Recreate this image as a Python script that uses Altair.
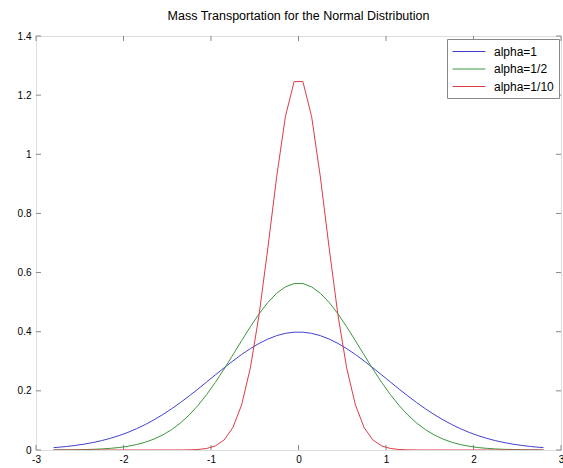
import altair as alt
import pandas as pd

# ---- data ----
x_vals = [-2.8, -2.75, -2.65, -2.55, -2.45, -2.35, -2.25, -2.15, -2.05, -1.95,
          -1.85, -1.75, -1.65, -1.55, -1.45, -1.35, -1.25, -1.15, -1.05, -0.95,
          -0.85, -0.75, -0.65, -0.55, -0.45, -0.35, -0.25, -0.15, -0.05,
          0.05, 0.15, 0.25, 0.35, 0.45, 0.55, 0.65, 0.75, 0.85, 0.95,
          1.05, 1.15, 1.25, 1.35, 1.45, 1.55, 1.65, 1.75, 1.85, 1.95,
          2.05, 2.15, 2.25, 2.35, 2.45, 2.55, 2.65, 2.75, 2.8]

alpha_1 = [0.0079, 0.0091, 0.0119, 0.0155, 0.0198, 0.0252, 0.0317, 0.0396, 0.0488, 0.0596,
           0.0721, 0.0863, 0.1023, 0.1200, 0.1394, 0.1604, 0.1827, 0.2059, 0.2299, 0.2541,
           0.2780, 0.3011, 0.3230, 0.3429, 0.3605, 0.3752, 0.3867, 0.3945, 0.3984,
           0.3984, 0.3945, 0.3867, 0.3752, 0.3605, 0.3429, 0.3230, 0.3011, 0.2780, 0.2541,
           0.2299, 0.2059, 0.1827, 0.1604, 0.1394, 0.1200, 0.1023, 0.0863, 0.0721, 0.0596,
           0.0488, 0.0396, 0.0317, 0.0252, 0.0198, 0.0155, 0.0119, 0.0091, 0.0079]

alpha_half = [0.0002, 0.0003, 0.0005, 0.0008, 0.0014, 0.0023, 0.0036, 0.0056, 0.0084, 0.0126,
              0.0184, 0.0264, 0.0371, 0.0511, 0.0689, 0.0912, 0.1183, 0.1503, 0.1874, 0.2288,
              0.2739, 0.3215, 0.3698, 0.4169, 0.4608, 0.4991, 0.5300, 0.5516, 0.5628,
              0.5628, 0.5516, 0.5300, 0.4991, 0.4608, 0.4169, 0.3698, 0.3215, 0.2739, 0.2288,
              0.1874, 0.1503, 0.1183, 0.0912, 0.0689, 0.0511, 0.0371, 0.0264, 0.0184, 0.0126,
              0.0084, 0.0056, 0.0036, 0.0023, 0.0014, 0.0008, 0.0005, 0.0003, 0.0002]

alpha_tenth = [0.0, 0.0, 0.0, 0.0, 0.0, 0.0, 0.0, 0.0, 0.0, 0.0,
               0.0, 0.0, 0.0, 0.0, 0.0, 0.0001, 0.0005, 0.0017, 0.0051, 0.0138,
               0.0340, 0.0758, 0.1526, 0.2780, 0.4583, 0.6838, 0.9230, 1.1273, 1.2459,
               1.2459, 1.1273, 0.9230, 0.6838, 0.4583, 0.2780, 0.1526, 0.0758, 0.0340, 0.0138,
               0.0051, 0.0017, 0.0005, 0.0001, 0.0, 0.0, 0.0, 0.0, 0.0, 0.0,
               0.0, 0.0, 0.0, 0.0, 0.0, 0.0, 0.0, 0.0, 0.0]

series_names = ["alpha=1", "alpha=1/2", "alpha=1/10"]
series_colors = ["#4040d0", "#3c963c", "#dc3c46"]

x_ticks = [-3, -2, -1, 0, 1, 2, 3]
y_ticks = [0, 0.2, 0.4, 0.6, 0.8, 1, 1.2, 1.4]

title_text = "Mass Transportation for the Normal Distribution"

# ---- build table ----
rows = []
for name, ys in zip(series_names, [alpha_1, alpha_half, alpha_tenth]):
    for i, (xv, yv) in enumerate(zip(x_vals, ys)):
        rows.append({"x": xv, "y": yv, "series": name, "i": i})
df = pd.DataFrame(rows)

W, H = 525, 414
FONT = "Liberation Sans"
AX = "#888888"
FS = 12

xscale = alt.Scale(domain=[-3, 3], nice=False, zero=False)
yscale = alt.Scale(domain=[0, 1.4], nice=False)

lines = alt.Chart(df).mark_line(strokeWidth=1, clip=True).encode(
    x=alt.X("x:Q", scale=xscale,
            axis=alt.Axis(values=x_ticks, title=None, ticks=False, domain=False, grid=False,
                          labelExpr="'' + datum.value", labelPadding=4,
                          labelFlush=False, labelBound=False, labelOverlap=False)),
    y=alt.Y("y:Q", scale=yscale,
            axis=alt.Axis(values=y_ticks, title=None, ticks=False, domain=False, grid=False,
                          labelExpr="'' + datum.value", labelPadding=5,
                          labelFlush=False, labelBound=False, labelOverlap=False)),
    color=alt.Color("series:N",
                    scale=alt.Scale(domain=series_names, range=series_colors),
                    sort=series_names,
                    legend=alt.Legend(title=None, orient="none", legendX=411, legendY=3,
                                      symbolType="M-1,0H3.7", symbolSize=196,
                                      symbolStrokeWidth=1, labelFontSize=FS, labelFont=FONT,
                                      labelColor="black", labelOffset=27,
                                      strokeColor=AX, fillColor="white",
                                      padding=5, rowPadding=3.5, labelLimit=200)),
    order="i:Q",
)

xt = pd.DataFrame({"t": x_ticks})
yt = pd.DataFrame({"t": y_ticks})

tick_bottom = alt.Chart(xt).mark_rule(color=AX, strokeWidth=1).encode(
    x=alt.X("t:Q", scale=xscale), y=alt.value(H), y2=alt.value(H - 5))
tick_top = alt.Chart(xt).mark_rule(color=AX, strokeWidth=1).encode(
    x=alt.X("t:Q", scale=xscale), y=alt.value(0), y2=alt.value(5))
tick_left = alt.Chart(yt).mark_rule(color=AX, strokeWidth=1).encode(
    y=alt.Y("t:Q", scale=yscale), x=alt.value(0), x2=alt.value(5))
tick_right = alt.Chart(yt).mark_rule(color=AX, strokeWidth=1).encode(
    y=alt.Y("t:Q", scale=yscale), x=alt.value(W), x2=alt.value(W - 5))

chart = alt.layer(tick_bottom, tick_top, tick_left, tick_right, lines).properties(
    width=W, height=H,
    title=alt.TitleParams(title_text, font=FONT, fontSize=12.5, fontWeight="normal",
                          color="black", offset=9, anchor="middle"),
    autosize=alt.AutoSizeParams(type="none"),
    padding={"left": 36, "top": 36, "right": 2, "bottom": 18},
).configure_view(stroke=AX, strokeWidth=1).configure_axis(
    labelFont=FONT, labelFontSize=FS, labelColor="black"
).configure(background="white")

chart.save("out.html", embed_options={"renderer": "svg", "actions": False})
